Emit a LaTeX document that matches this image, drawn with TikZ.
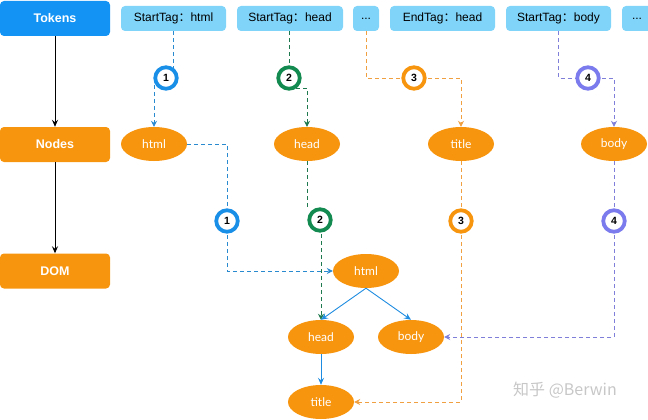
\documentclass[tikz,border=0pt]{standalone}
\usepackage{fontspec}
\setmainfont{Liberation Sans}
\newfontfamily\cjk{Noto Sans CJK SC}
\newfontfamily\ellfont{Lato}
\usetikzlibrary{arrows.meta,shapes.geometric}
\definecolor{tokblue}{HTML}{1394F5}
\definecolor{tagblue}{HTML}{80D4F9}
\definecolor{orng}{HTML}{F7950F}
\definecolor{cone}{HTML}{1A8FE8}
\definecolor{ctwo}{HTML}{138A50}
\definecolor{cthree}{HTML}{F7950F}
\definecolor{cfour}{HTML}{7B7BEE}
\definecolor{lone}{HTML}{2A8AD0}
\definecolor{ltwo}{HTML}{1E7A4E}
\definecolor{lthree}{HTML}{F0A040}
\definecolor{lfour}{HTML}{7F7FDA}
\definecolor{treeblue}{HTML}{1E8CE0}
\tikzset{
  leftbox/.style={rounded corners=4pt, minimum width=110pt, minimum height=35pt, inner sep=0pt, text=white, font=\bfseries\fontsize{12.5}{14}\selectfont},
  tagbox/.style={fill=tagblue, rounded corners=4pt, minimum height=25pt, inner sep=0pt, font=\fontsize{12}{14}\selectfont},
  ell/.style={ellipse, fill=orng, minimum width=66pt, minimum height=34pt, inner sep=0pt, text=white, font=\ellfont\fontsize{12}{14}\selectfont},
  num/.style={circle, draw=#1, line width=3.8pt, fill=white, minimum size=21.5pt, inner sep=0pt, font=\bfseries\fontsize{10.5}{12}\selectfont},
  conn/.style={draw=#1, line width=0.9pt, dash pattern=on 4pt off 3pt},
  tip/.style={-{Stealth[length=6pt,width=6pt,inset=2pt]}},
  solid arrow/.style={draw=#1, line width=0.9pt, -{Stealth[length=7pt,width=6pt,inset=2.5pt]}}
}
\begin{document}
\begin{tikzpicture}[x=1pt,y=-1pt]
\useasboundingbox (0,0) rectangle (648,420);
% left column
\node[leftbox, fill=tokblue] (tok) at (55,18.5) {Tokens};
\node[leftbox, fill=orng] (nod) at (55,144.5) {Nodes};
\node[leftbox, fill=orng] (dom) at (55,271) {DOM};
% token boxes
\node[tagbox, minimum width=105pt] (t1) at (173.5,18.5) {StartTag{\cjk ：}html};
\node[tagbox, minimum width=106pt] (t2) at (290,18.5) {StartTag{\cjk ：}head};
\node[tagbox, minimum width=26pt] (t3) at (366,18.5) {...};
\node[tagbox, minimum width=105pt] (t4) at (442.5,18.5) {EndTag{\cjk ：}head};
\node[tagbox, minimum width=105pt] (t5) at (558.5,18.5) {StartTag{\cjk ：}body};
\node[tagbox, minimum width=30pt] (t6) at (637,18.5) {...};
% Nodes row
\node[ell] (nhtml) at (154,144) {html};
\node[ell] (nhead) at (307,144) {head};
\node[ell] (ntitle) at (461,144) {title};
\node[ell] (nbody) at (614,144) {body};
% DOM tree
\node[ell] (dhtml) at (366,271) {html};
\node[ell] (dhead) at (321,337) {head};
\node[ell] (dbody) at (411,337) {body};
\node[ell] (dtitle) at (321,402) {title};
% circle positions
\coordinate (p1a) at (166,78);
\coordinate (p2a) at (289,78);
\coordinate (p3a) at (414,78);
\coordinate (p4a) at (588,78);
\coordinate (p1b) at (227,221);
\coordinate (p2b) at (320,220);
\coordinate (p3b) at (461,221);
\coordinate (p4b) at (614,221);
\coordinate (k2) at (289,88);
\coordinate (k2b) at (307,210);
% left arrows
\draw[solid arrow=black] (tok) -- (nod);
\draw[solid arrow=black] (nod) -- (dom);
% top connectors
\draw[conn=lone] (t1.south) -- (t1.south |- p1a);
\draw[conn=lone, tip] (p1a -| nhtml.north) -- (nhtml.north);
\draw[conn=ltwo] (t2.south -| p2a) -- (p2a);
\draw[conn=ltwo, tip] (k2) -| (nhead.north);
\draw[conn=lthree] (t3.south) |- (p3a);
\draw[conn=lthree, tip] (p3a) -| (ntitle.north);
\draw[conn=lfour] (t5.south) |- (p4a);
\draw[conn=lfour, tip] (p4a) -| (nbody.north);
% lower connectors
\draw[conn=lone] (nhtml.east) -| (p1b);
\draw[conn=lone, tip] (p1b) |- (dhtml.west);
\draw[conn=ltwo] (nhead.south) -- (k2b);
\draw[conn=ltwo, tip] (p2b -| dhead.north) -- (dhead.north);
\draw[conn=lthree] (ntitle.south) -- (p3b);
\draw[conn=lthree, tip] (p3b) |- (dtitle.east);
\draw[conn=lfour] (nbody.south) -- (p4b);
\draw[conn=lfour, tip] (p4b) |- (dbody.east);
% tree edges
\draw[solid arrow=treeblue] (dhtml.south) -- (dhead.north);
\draw[solid arrow=treeblue] (dhtml.south) -- (dbody.north);
\draw[solid arrow=treeblue] (dhead.south) -- (dtitle.north);
% circles
\node[num=cone] (c1a) at (p1a) {1};
\node[num=ctwo] (c2a) at (p2a) {2};
\node[num=cthree] (c3a) at (p3a) {3};
\node[num=cfour] (c4a) at (p4a) {4};
\node[num=cone] (c1b) at (p1b) {1};
\node[num=ctwo] (c2b) at (p2b) {2};
\node[num=cthree] (c3b) at (p3b) {3};
\node[num=cfour] (c4b) at (p4b) {4};
% watermark
\node[text=black!22, font=\cjk\fontsize{16}{18}\selectfont] (wm) at (565,390) {知乎 @Berwin};
\end{tikzpicture}
\end{document}
